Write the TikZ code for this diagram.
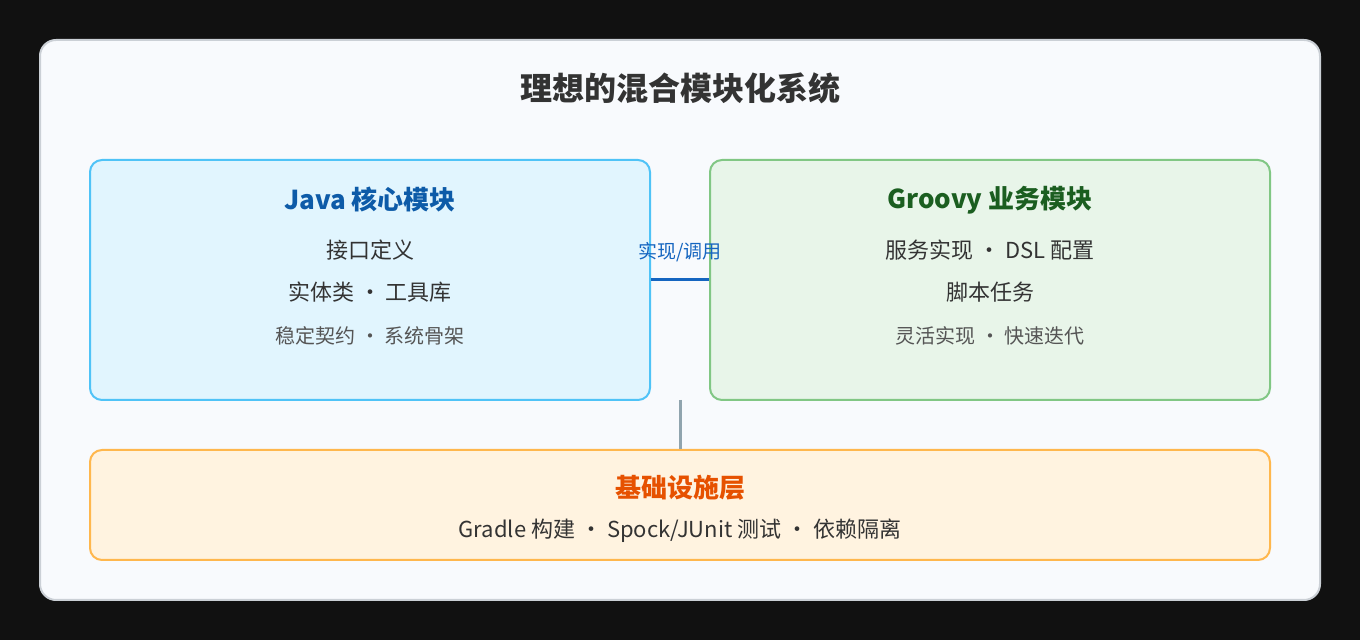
\documentclass[tikz,border=0pt]{standalone}
\usepackage{fontspec}
\setmainfont{Noto Sans CJK SC}
\definecolor{bgdark}{HTML}{111111}
\definecolor{cardbg}{HTML}{F8FAFD}
\definecolor{cardline}{HTML}{CBD0D6}
\definecolor{javafill}{HTML}{E1F5FE}
\definecolor{javaline}{HTML}{4FC3F7}
\definecolor{javatext}{HTML}{0D5BA8}
\definecolor{groovyfill}{HTML}{E8F5E9}
\definecolor{groovyline}{HTML}{81C784}
\definecolor{groovytext}{HTML}{1B5E20}
\definecolor{infrafill}{HTML}{FFF3E0}
\definecolor{infraline}{HTML}{FFB74D}
\definecolor{infratext}{HTML}{E65100}
\definecolor{linkblue}{HTML}{1565C0}
\definecolor{linkgray}{HTML}{90A4AE}
\definecolor{bodytext}{HTML}{333333}
\definecolor{subtext}{HTML}{555555}
\tikzset{
  box/.style={draw,line width=1pt,rounded corners=6pt,inner sep=0pt},
  head/.style={font=\bfseries\fontsize{13}{15}\selectfont},
  body/.style={text=bodytext,font=\fontsize{11}{13}\selectfont},
  note/.style={text=subtext,font=\fontsize{10}{12}\selectfont}
}
\begin{document}
\begin{tikzpicture}[x=0.5pt,y=-0.5pt]
  \fill[bgdark] (0,0) rectangle (1360,640);
  \useasboundingbox (0,0) rectangle (1360,640);
  \draw[fill=cardbg,draw=cardline,line width=1pt,rounded corners=8pt] (40,40) rectangle (1320,600);
  \node (title) at (680,88) [text=bodytext,font=\bfseries\fontsize{16}{18}\selectfont] {理想的混合模块化系统};

  % modules
  \node (java)[box,fill=javafill,draw=javaline,minimum width=280pt,minimum height=120pt] at (370,280) {};
  \node (groovy)[box,fill=groovyfill,draw=groovyline,minimum width=280pt,minimum height=120pt] at (990,280) {};
  \node (infra)[box,fill=infrafill,draw=infraline,minimum width=590pt,minimum height=55pt] at (680,505) {};

  \node (javahead)[head,text=javatext] at (370,200) {Java 核心模块};
  \node (java1)[body] at (370,250) {接口定义};
  \node (java2)[body] at (370,292) {实体类 · 工具库};
  \node (java3)[note] at (370,336) {稳定契约 · 系统骨架};

  \node (groovyhead)[head,text=groovytext] at (990,200) {Groovy 业务模块};
  \node (groovy1)[body] at (990,250) {服务实现 · DSL 配置};
  \node (groovy2)[body] at (990,292) {脚本任务};
  \node (groovy3)[note] at (990,336) {灵活实现 · 快速迭代};

  \node (infrahead)[head,text=infratext] at (680,488) {基础设施层};
  \node (infra1)[body] at (680,531) {Gradle 构建 · Spock/JUnit 测试 · 依赖隔离};

  % links
  \draw[linkblue,line width=1.5pt] (java.east) -- (groovy.west);
  \node (linklabel)[text=linkblue,font=\fontsize{9.5}{11}\selectfont] at (680,252) {实现/调用};
  \coordinate (gap) at (680,400);
  \draw[linkgray,line width=1.5pt] (gap) -- (infra.north);
\end{tikzpicture}
\end{document}
